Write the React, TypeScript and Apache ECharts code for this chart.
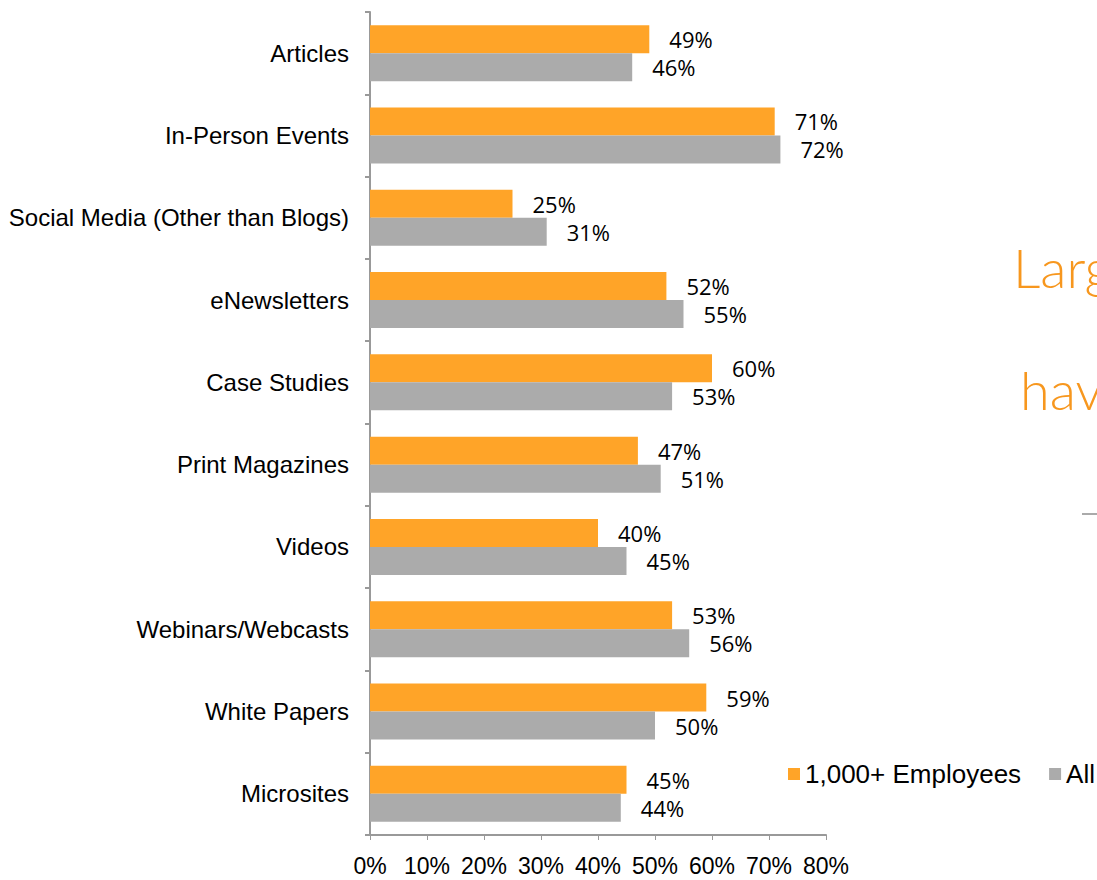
import React, { useEffect, useRef } from "react";
import * as echarts from "echarts";

const categories = [
  "Articles",
  "In-Person Events",
  "Social Media (Other than Blogs)",
  "eNewsletters",
  "Case Studies",
  "Print Magazines",
  "Videos",
  "Webinars/Webcasts",
  "White Papers",
  "Microsites",
];
const largeCompanies = [49, 71, 25, 52, 60, 47, 40, 53, 59, 45];
const allCompanies = [46, 72, 31, 55, 53, 51, 45, 56, 50, 44];
const seriesNames = ["1,000+ Employees", "All"];

export default function App() {
  const ref = useRef<HTMLDivElement>(null);
  useEffect(() => {
    const chart = echarts.init(ref.current!, null, { renderer: "svg" });
    const labelStyle = {
      show: true,
      position: "right" as const,
      distance: 20,
      formatter: "{c}%",
      color: "#000",
      fontSize: 22,
      fontFamily: "Open Sans",
    };
    chart.setOption({
      animation: false,
      backgroundColor: "#fff",
      grid: { left: 370, right: 271, top: 12, bottom: 45, containLabel: false },
      legend: {
        left: 783,
        top: 756,
        width: 500,
        orient: "horizontal",
        itemWidth: 12,
        itemHeight: 12,
        itemGap: 28,
        icon: "rect",
        textStyle: { fontSize: 26, fontFamily: "Liberation Sans", color: "#000", padding: [0, 0, 0, 0] },
        data: seriesNames,
      },
      xAxis: {
        type: "value",
        min: 0,
        max: 80,
        interval: 10,
        axisLine: { show: true, lineStyle: { color: "#999", width: 2 } },
        axisTick: { show: true, length: 5, lineStyle: { color: "#999" } },
        splitLine: { show: false },
        axisLabel: {
          formatter: "{value}%",
          fontSize: 23,
          fontFamily: "Liberation Sans",
          color: "#000",
          margin: 19,
        },
      },
      yAxis: {
        type: "category",
        inverse: true,
        data: categories,
        axisLine: { show: true, lineStyle: { color: "#999", width: 2 } },
        axisTick: { show: true, length: 5, lineStyle: { color: "#999", width: 2 } },
        axisLabel: {
          fontSize: 24,
          fontFamily: "Liberation Sans",
          color: "#000",
          margin: 21,
        },
      },
      series: [
        {
          name: seriesNames[0],
          type: "bar",
          data: largeCompanies,
          barWidth: 28,
          barGap: "0%",
          itemStyle: { color: "#FFA428" },
          label: labelStyle,
        },
        {
          name: seriesNames[1],
          type: "bar",
          data: allCompanies,
          barWidth: 28,
          barGap: "0%",
          itemStyle: { color: "#ABABAB" },
          label: labelStyle,
        },
      ],
      graphic: [
        {
          type: "text",
          left: 1013,
          top: 240,
          style: { text: "Larg", fontSize: 54, fontWeight: 300, fontFamily: "Lato", fill: "#F7971E" },
        },
        {
          type: "text",
          left: 1020,
          top: 362,
          style: { text: "have", fontSize: 54, fontWeight: 300, fontFamily: "Lato", fill: "#F7971E" },
        },
        {
          type: "line",
          shape: { x1: 1082, y1: 514, x2: 1097, y2: 514 },
          style: { stroke: "#AAAAAA", lineWidth: 2 },
        },
      ],
    });
    return () => chart.dispose();
  }, []);
  return <div ref={ref} style={{ width: 1097, height: 880, position: "absolute", left: 0, top: 0 }} />;
}
